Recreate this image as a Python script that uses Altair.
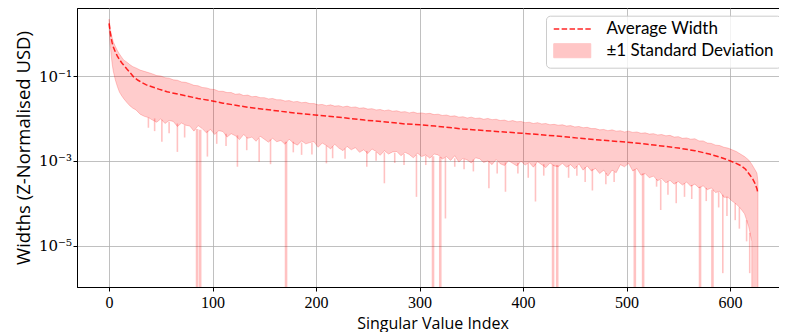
import altair as alt
import pandas as pd

# ---- data (values stored as log10 of width) ----
# band: upper edge and jagged lower edge of the +-1 std region
band_idx = [
    0, 1, 2, 3, 4, 6, 8, 10, 12, 14, 17, 20, 23, 26, 30, 34,
    38, 42, 46, 50, 54, 58, 62, 66, 70, 74,
    78, 82, 86, 90, 94, 98, 102, 106, 110, 114,
    118, 122, 126, 130, 134, 138, 142, 146, 150, 154,
    158, 162, 166, 170, 174, 178, 182, 186, 190, 194,
    198, 202, 206, 210, 214, 218, 222, 226, 230, 234,
    238, 242, 246, 250, 254, 258, 262, 266, 270, 274,
    278, 282, 286, 290, 294, 298, 302, 306, 310, 314,
    318, 322, 326, 330, 334, 338, 342, 346, 350, 354,
    358, 362, 366, 370, 374, 378, 382, 386, 390, 394,
    398, 402, 406, 410, 414, 418, 422, 426, 430, 434,
    438, 442, 446, 450, 454, 458, 462, 466, 470, 474,
    478, 482, 486, 490, 494, 498, 502, 506, 510, 514,
    518, 522, 526, 530, 534, 538, 542, 546, 550, 554,
    558, 562, 566, 570, 574, 578, 582, 586, 590, 594,
    598, 602, 606, 610, 614, 618, 621, 622, 626, 627,
]
band_upper_log10 = [
    0.34, 0.15, 0.00, -0.10, -0.19, -0.30, -0.40, -0.48, -0.55, -0.62, -0.67, -0.73, -0.78, -0.81, -0.86, -0.89,
    -0.92, -0.95, -0.99, -1.00, -1.04, -1.05, -1.09, -1.10, -1.14, -1.15,
    -1.18, -1.22, -1.23, -1.27, -1.28, -1.31, -1.32, -1.36, -1.36, -1.39,
    -1.39, -1.43, -1.42, -1.46, -1.45, -1.49, -1.48, -1.51, -1.51, -1.54,
    -1.53, -1.56, -1.56, -1.59, -1.58, -1.61, -1.60, -1.63, -1.62, -1.65,
    -1.65, -1.68, -1.67, -1.70, -1.68, -1.71, -1.70, -1.73, -1.71, -1.74,
    -1.73, -1.76, -1.75, -1.78, -1.77, -1.80, -1.79, -1.82, -1.80, -1.83,
    -1.82, -1.85, -1.84, -1.87, -1.85, -1.88, -1.87, -1.89, -1.88, -1.91,
    -1.90, -1.93, -1.92, -1.95, -1.94, -1.97, -1.96, -1.99, -1.97, -2.00,
    -1.99, -2.02, -2.00, -2.03, -2.02, -2.05, -2.04, -2.07, -2.05, -2.08,
    -2.07, -2.10, -2.09, -2.12, -2.10, -2.13, -2.12, -2.15, -2.14, -2.16,
    -2.15, -2.18, -2.17, -2.20, -2.19, -2.22, -2.21, -2.24, -2.24, -2.27,
    -2.26, -2.29, -2.27, -2.30, -2.29, -2.32, -2.30, -2.33, -2.32, -2.35,
    -2.34, -2.37, -2.36, -2.39, -2.38, -2.41, -2.40, -2.44, -2.43, -2.47,
    -2.46, -2.49, -2.48, -2.53, -2.53, -2.58, -2.59, -2.63, -2.64, -2.68,
    -2.70, -2.74, -2.78, -2.84, -2.90, -2.98, -3.08, -3.12, -3.29, -3.50,
]
band_lower_log10 = [
    0.14, -0.22, -0.50, -0.72, -0.88, -1.09, -1.25, -1.38, -1.46, -1.53, -1.62, -1.70, -1.76, -1.80, -1.90, -1.95,
    -1.98, -2.04, -2.09, -2.01, -2.12, -2.05, -2.07, -2.19, -2.11, -2.16,
    -2.18, -2.30, -2.17, -2.24, -2.34, -2.26, -2.38, -2.29, -2.31, -2.44,
    -2.36, -2.41, -2.50, -2.38, -2.47, -2.44, -2.54, -2.42, -2.49, -2.56,
    -2.47, -2.55, -2.52, -2.61, -2.49, -2.58, -2.63, -2.53, -2.60, -2.57,
    -2.55, -2.68, -2.58, -2.64, -2.72, -2.61, -2.70, -2.76, -2.66, -2.74,
    -2.69, -2.80, -2.74, -2.83, -2.72, -2.78, -2.87, -2.76, -2.84, -2.79,
    -2.78, -2.88, -2.80, -2.85, -2.93, -2.82, -2.90, -2.86, -2.94, -2.84,
    -2.86, -2.96, -2.90, -2.99, -2.88, -3.03, -2.94, -2.98, -3.05, -2.93,
    -2.95, -3.04, -3.00, -3.09, -2.97, -3.07, -3.11, -3.00, -3.06, -3.12,
    -3.01, -3.10, -3.04, -3.15, -3.02, -3.09, -3.16, -3.05, -3.12, -3.14,
    -3.06, -3.15, -3.09, -3.19, -3.07, -3.22, -3.12, -3.24, -3.18, -3.30,
    -3.22, -3.36, -3.22, -3.28, -3.09, -3.14, -3.06, -3.24, -3.18, -3.34,
    -3.30, -3.40, -3.36, -3.47, -3.42, -3.52, -3.46, -3.55, -3.49, -3.57,
    -3.50, -3.60, -3.55, -3.64, -3.59, -3.68, -3.64, -3.75, -3.72, -3.86,
    -3.86, -3.95, -4.02, -4.12, -4.25, -4.55, -4.90, -30, -30, -30,
]

# narrow downward spikes of the lower edge: index, start, tip
spike_idx = [
    38, 44, 51, 58, 66, 73, 95, 104, 113, 124,
    133, 145, 156, 178, 186, 196, 210, 216, 228, 249,
    258, 266, 276, 285, 297, 306, 325, 334, 343, 352,
    367, 375, 383, 395, 405, 412, 420, 444, 452, 460,
    467, 480, 488, 529, 533, 540, 548, 556, 563, 577,
    589, 593, 597, 605, 609, 616, 619,
]
spike_top_log10 = [
    -1.98, -2.00, -2.03, -2.08, -2.12, -2.16, -2.29, -2.33, -2.36, -2.40,
    -2.44, -2.47, -2.50, -2.55, -2.57, -2.58, -2.64, -2.66, -2.71, -2.77,
    -2.79, -2.80, -2.81, -2.84, -2.86, -2.88, -2.92, -2.94, -2.96, -2.97,
    -3.01, -3.03, -3.04, -3.05, -3.06, -3.07, -3.08, -3.11, -3.12, -3.15,
    -3.19, -3.29, -3.26, -3.43, -3.45, -3.48, -3.50, -3.53, -3.57, -3.64,
    -3.74, -3.80, -3.85, -4.00, -4.10, -4.40, -4.70,
]
spike_tip_log10 = [
    -2.22, -2.30, -2.55, -2.35, -2.79, -2.45, -2.90, -2.60, -2.65, -3.14,
    -2.75, -3.02, -3.08, -2.80, -2.86, -2.85, -3.06, -2.94, -2.95, -3.14,
    -3.00, -3.53, -3.05, -3.10, -3.85, -3.10, -4.36, -3.14, -3.20, -3.25,
    -3.65, -3.30, -3.73, -3.30, -3.40, -3.96, -3.35, -3.40, -3.35, -3.50,
    -3.70, -3.55, -3.50, -3.61, -4.16, -3.80, -4.00, -3.85, -3.90, -3.95,
    -4.10, -5.65, -4.30, -4.40, -4.60, -4.90, -5.65,
]

# spikes that run off the bottom of the axis (lower edge <= 0)
deep_idx = [85, 88, 171, 313, 320, 429, 433, 508, 516, 571, 583]
deep_top_log10 = [-2.25, -2.27, -2.55, -2.89, -2.91, -3.09, -3.10, -3.20, -3.30, -3.61, -3.68]
deep_tip_log10 = [-30, -30, -30, -30, -30, -30, -30, -30, -30, -30, -30]

mean_idx = [
    0, 1, 2, 3, 4, 6, 8, 10, 12, 14,
    17, 20, 24, 28, 32, 36, 42, 48, 56, 65,
    75, 86, 98, 110, 120, 135, 152, 175, 199, 225,
    247, 270, 286, 300, 315, 342, 370, 399, 420, 439,
    455, 474, 500, 520, 534, 550, 566, 580, 590, 598,
    605, 611, 615, 619, 622, 624, 626, 627,
]
mean_log10 = [
    0.24, 0.05, -0.10, -0.22, -0.31, -0.43, -0.53, -0.61, -0.68, -0.74,
    -0.83, -0.91, -1.03, -1.10, -1.16, -1.21, -1.26, -1.31, -1.37, -1.42,
    -1.47, -1.53, -1.58, -1.64, -1.68, -1.74, -1.79, -1.86, -1.92, -1.98,
    -2.04, -2.09, -2.13, -2.15, -2.18, -2.25, -2.30, -2.35, -2.39, -2.43,
    -2.47, -2.51, -2.56, -2.61, -2.65, -2.70, -2.76, -2.84, -2.91, -2.98,
    -3.05, -3.12, -3.20, -3.33, -3.43, -3.53, -3.66, -3.77,
]

x_ticks = [0, 100, 200, 300, 400, 500, 600]
y_ticks = [1e-5, 1e-3, 1e-1]
series_names = ["Average Width", "±1 Standard Deviation"]

band = pd.DataFrame({
    "idx": band_idx,
    "upper": [10.0 ** v for v in band_upper_log10],
    "lower": [10.0 ** v for v in band_lower_log10],
    "band": [series_names[1]] * len(band_idx),
})
spikes = pd.DataFrame({
    "idx": spike_idx,
    "top": [10.0 ** v for v in spike_top_log10],
    "tip": [10.0 ** v for v in spike_tip_log10],
})
deep = pd.DataFrame({
    "idx": deep_idx,
    "top": [10.0 ** v for v in deep_top_log10],
    "tip": [10.0 ** v for v in deep_tip_log10],
})
mean = pd.DataFrame({
    "idx": mean_idx,
    "width": [10.0 ** v for v in mean_log10],
    "series": [series_names[0]] * len(mean_idx),
})

x_scale = alt.Scale(domain=[-31, 656], nice=False, zero=False)
y_scale = alt.Scale(type="log", domain=[10 ** -5.976, 10 ** 0.604], nice=False)

x_axis = alt.Axis(values=x_ticks, format="d", title="Singular Value Index",
                  titleY=28, titleBaseline="top", grid=True, labelFlush=False)
y_axis = alt.Axis(values=y_ticks,
                  labelExpr="datum.value < 1e-4 ? '10⁻⁵' : (datum.value < 1e-2 ? '10⁻³' : '10⁻¹')",
                  labelFont="DejaVu Serif", labelFontSize=15, labelPadding=1.5,
                  title="Widths (Z-Normalised USD)", titleX=-44, titleY=139.5,
                  titleFontSize=18.5, titleBaseline="bottom", grid=True, labelFlush=False)

area = alt.Chart(band).mark_area(
    fillOpacity=0.2, stroke="#ff0000", strokeOpacity=0.2, strokeWidth=1, clip=True
).encode(
    x=alt.X("idx:Q", scale=x_scale, axis=x_axis),
    y=alt.Y("upper:Q", scale=y_scale, axis=y_axis),
    y2="lower:Q",
    fill=alt.Fill("band:N", scale=alt.Scale(domain=[series_names[1]], range=["#ff0000"]),
                  legend=alt.Legend(orient="none", legendX=469, legendY=7.7, title=" ",
                                    titleFontSize=13, titlePadding=5, padding=7,
                                    symbolType="M-1,-0.76H3V0.76H-1Z", symbolSize=342,
                                    symbolOpacity=0.22, symbolStrokeColor="#ff0000",
                                    symbolStrokeWidth=1, labelFont="Lato",
                                    labelFontSize=17, labelOffset=33.5, labelColor="black",
                                    labelLimit=400,
                                    fillColor="rgba(255,255,255,0.8)", strokeColor="#cccccc",
                                    cornerRadius=4)),
)

thin_spikes = alt.Chart(spikes).mark_rule(
    color="#ff0000", opacity=0.24, strokeWidth=1.6, clip=True
).encode(
    x=alt.X("idx:Q", scale=x_scale, axis=x_axis),
    y=alt.Y("top:Q", scale=y_scale, axis=y_axis),
    y2="tip:Q",
)

deep_spikes = alt.Chart(deep).mark_rule(
    color="#ff0000", opacity=0.24, strokeWidth=2.6, clip=True
).encode(
    x=alt.X("idx:Q", scale=x_scale, axis=x_axis),
    y=alt.Y("top:Q", scale=y_scale, axis=y_axis),
    y2="tip:Q",
)

line = alt.Chart(mean).mark_line(
    strokeDash=[5.5, 2.4], strokeWidth=1.5, opacity=0.85, clip=True
).encode(
    x=alt.X("idx:Q", scale=x_scale, axis=x_axis),
    y=alt.Y("width:Q", scale=y_scale, axis=y_axis),
    stroke=alt.Stroke("series:N", scale=alt.Scale(domain=[series_names[0]], range=["#ff0000"]),
                      legend=alt.Legend(orient="none", legendX=476, legendY=11, title=None,
                                        padding=0, symbolType="M-1,0H3", symbolSize=342,
                                        symbolDash=[5.5, 2.4], symbolStrokeWidth=1.5,
                                        symbolOpacity=0.85, labelFont="Lato",
                                        labelFontSize=17, labelOffset=33.5, labelColor="black",
                                        labelLimit=400)),
)

chart = alt.layer(area, thin_spikes, deep_spikes, line).properties(
    width=711, height=279,
    autosize=alt.AutoSizeParams(type="none"),
    padding={"left": 69, "top": 0, "right": -9, "bottom": 45},
).configure_view(
    stroke="black", strokeWidth=1
).configure_axis(
    labelFont="Liberation Serif", labelFontSize=16, labelColor="black", labelPadding=3,
    titleFont="Open Sans", titleFontSize=16, titleFontWeight="normal", titleColor="black",
    domainColor="black", domainWidth=1, tickColor="black", tickSize=4, tickWidth=1,
    gridColor="#b0b0b0", gridWidth=0.8, gridOpacity=1,
)

chart.save("out.html", embed_options={"renderer": "svg", "actions": False})
